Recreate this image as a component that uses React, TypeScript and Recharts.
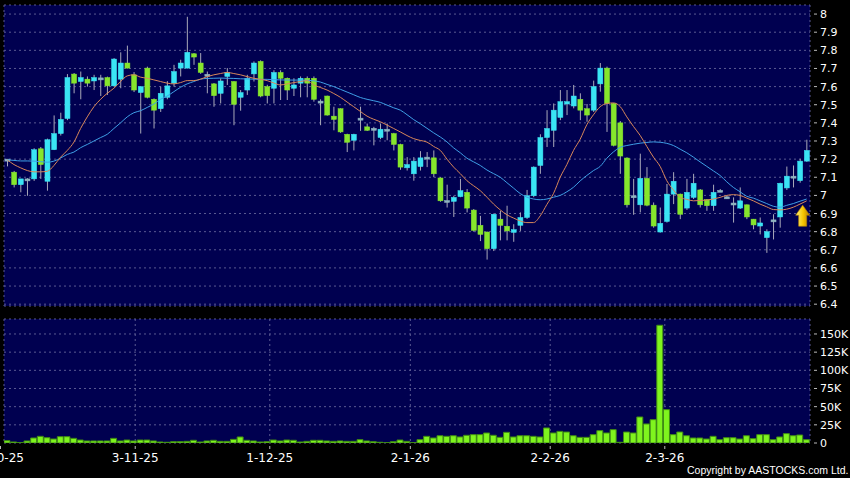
import { ComposedChart, BarChart, Bar, Line, XAxis, YAxis, CartesianGrid, ReferenceDot } from "recharts";

// daily candles (121 sessions)
const OPEN = [
  7.195, 7.128, 7.059, 7.091, 7.091, 7.257, 7.078, 7.252, 7.341, 7.424,
  7.669, 7.628, 7.641, 7.631, 7.646, 7.65, 7.604, 7.641, 7.73, 7.665,
  7.567, 7.702, 7.53, 7.478, 7.541, 7.619, 7.702, 7.702, 7.781, 7.73,
  7.665, 7.615, 7.563, 7.656, 7.628, 7.541, 7.581, 7.67, 7.739, 7.6,
  7.591, 7.678, 7.646, 7.591, 7.619, 7.646, 7.646, 7.517, 7.548, 7.437,
  7.478, 7.337, 7.304, 7.424, 7.378, 7.37, 7.319, 7.363, 7.341, 7.281,
  7.152, 7.119, 7.159, 7.209, 7.207, 7.096, 6.97, 6.967, 6.993, 7.017,
  6.919, 6.835, 6.798, 6.706, 6.869, 6.83, 6.796, 6.835, 6.878, 6.998,
  7.165, 7.319, 7.359, 7.43, 7.504, 7.493, 7.53, 7.478, 7.47, 7.615,
  7.702, 7.507, 7.4, 7.206, 6.996, 6.948, 7.094, 6.946, 6.798, 6.856,
  7.007, 7.007, 6.93, 6.989, 7.03, 6.976, 6.943, 7.026, 6.99, 6.956,
  6.93, 6.948, 6.869, 6.831, 6.767, 6.863, 6.881, 7.041, 7.104, 7.081,
  7.189,
];
const HIGH = [
  7.2, 7.135, 7.091, 7.095, 7.26, 7.267, 7.313, 7.441, 7.456, 7.669,
  7.675, 7.683, 7.656, 7.665, 7.665, 7.655, 7.757, 7.789, 7.826, 7.68,
  7.6, 7.71, 7.535, 7.6, 7.63, 7.72, 7.748, 7.985, 7.785, 7.785,
  7.683, 7.62, 7.646, 7.702, 7.63, 7.581, 7.665, 7.739, 7.745, 7.61,
  7.69, 7.69, 7.65, 7.646, 7.656, 7.656, 7.656, 7.53, 7.55, 7.489,
  7.48, 7.34, 7.34, 7.489, 7.396, 7.378, 7.396, 7.396, 7.345, 7.285,
  7.211, 7.211, 7.244, 7.239, 7.248, 7.1, 7.059, 6.998, 7.091, 7.035,
  6.925, 6.887, 6.8, 6.9, 6.915, 6.943, 6.841, 6.906, 7.03, 7.16,
  7.337, 7.47, 7.507, 7.581, 7.581, 7.609, 7.563, 7.504, 7.633, 7.73,
  7.71, 7.51, 7.41, 7.21, 7.091, 7.23, 7.156, 6.961, 6.933, 7.063,
  7.128, 7.01, 7.091, 7.119, 7.035, 6.98, 7.059, 7.035, 7.0, 6.989,
  7.044, 6.95, 6.87, 6.878, 6.813, 6.896, 7.07, 7.159, 7.165, 7.202,
  7.307,
];
const LOW = [
  7.16, 7.044, 7.017, 6.998, 7.08, 7.091, 7.026, 7.25, 7.33, 7.415,
  7.563, 7.53, 7.6, 7.581, 7.548, 7.554, 7.6, 7.591, 7.7, 7.57,
  7.341, 7.535, 7.369, 7.46, 7.53, 7.6, 7.656, 7.7, 7.72, 7.67,
  7.563, 7.489, 7.507, 7.609, 7.387, 7.467, 7.554, 7.628, 7.541, 7.507,
  7.507, 7.526, 7.526, 7.548, 7.541, 7.541, 7.517, 7.387, 7.44, 7.359,
  7.345, 7.239, 7.248, 7.356, 7.355, 7.276, 7.31, 7.304, 7.248, 7.141,
  7.137, 7.081, 7.137, 7.156, 7.1, 6.965, 6.933, 6.881, 6.99, 6.906,
  6.8, 6.748, 6.646, 6.693, 6.752, 6.752, 6.744, 6.804, 6.87, 6.99,
  7.119, 7.267, 7.267, 7.415, 7.443, 7.48, 7.415, 7.406, 7.46, 7.572,
  7.35, 7.27, 7.119, 6.933, 6.893, 6.906, 6.94, 6.822, 6.795, 6.85,
  6.952, 6.869, 6.92, 6.98, 6.933, 6.915, 6.915, 7.02, 6.98, 6.85,
  6.925, 6.869, 6.813, 6.785, 6.683, 6.757, 6.822, 7.03, 7.044, 7.07,
  7.185,
];
const CLOSE = [
  7.2, 7.059, 7.091, 7.087, 7.252, 7.17, 7.307, 7.341, 7.419, 7.65,
  7.619, 7.65, 7.619, 7.65, 7.648, 7.604, 7.752, 7.73, 7.702, 7.581,
  7.6, 7.541, 7.47, 7.563, 7.604, 7.683, 7.73, 7.789, 7.763, 7.678,
  7.668, 7.55, 7.631, 7.678, 7.502, 7.567, 7.646, 7.73, 7.548, 7.55,
  7.678, 7.646, 7.581, 7.609, 7.646, 7.619, 7.53, 7.52, 7.443, 7.419,
  7.35, 7.293, 7.337, 7.426, 7.359, 7.37, 7.365, 7.365, 7.281, 7.156,
  7.17, 7.189, 7.207, 7.211, 7.119, 6.97, 6.972, 6.989, 7.026, 6.93,
  6.807, 6.785, 6.706, 6.896, 6.835, 6.804, 6.811, 6.878, 6.998, 7.156,
  7.319, 7.369, 7.47, 7.517, 7.517, 7.548, 7.47, 7.443, 7.6, 7.702,
  7.507, 7.276, 7.217, 6.948, 6.998, 7.094, 6.946, 6.831, 6.846, 7.007,
  7.078, 6.896, 7.017, 7.067, 6.948, 6.943, 7.017, 7.028, 6.992, 6.958,
  6.97, 6.881, 6.837, 6.848, 6.8, 6.865, 7.067, 7.106, 7.106, 7.189,
  7.248,
];
// shares traded, thousands
const VOLUME_K = [
  3.2, 1.4, 0.5, 2.8, 6.9, 9.2, 7.3, 5.5, 8.7, 8.7,
  6.4, 4.1, 2.8, 2.8, 2.8, 2.8, 6.4, 2.8, 4.1, 2.8,
  4.1, 4.1, 2.8, 1.4, 1.0, 1.8, 1.8, 2.3, 3.7, 1.4,
  2.8, 3.7, 2.3, 2.3, 5.0, 8.3, 3.7, 2.8, 1.4, 1.8,
  4.1, 2.8, 4.1, 3.7, 1.4, 2.3, 3.7, 3.7, 2.8, 2.3,
  2.8, 2.3, 2.3, 4.6, 2.8, 1.8, 1.0, 0.5, 1.8, 4.1,
  2.3, 0.5, 4.6, 9.2, 6.9, 10, 9.2, 10, 8.3, 10.6,
  11.5, 11.5, 13.8, 10.6, 7.8, 14.7, 8.3, 10, 10, 9.2,
  8.3, 20.7, 13.8, 16, 15.1, 10, 7.8, 7.8, 11.5, 17,
  13.8, 18.4, 1, 15.1, 13.8, 35.8, 26.2, 32.1, 162, 45.9,
  11.5, 15.1, 10, 6.9, 6.9, 5.5, 9.2, 4.6, 7.3, 7.3,
  5.5, 10, 6, 11.5, 11.5, 4.6, 8.3, 12.9, 10, 11,
  4.6,
];
// moving averages as drawn (orange = short, blue = long)
const MA_SHORT = [
  7.196, 7.17, 7.152, 7.137, 7.13, 7.13, 7.133, 7.165, 7.211, 7.248,
  7.294, 7.369, 7.433, 7.489, 7.53, 7.563, 7.591, 7.628, 7.659, 7.665,
  7.652, 7.646, 7.637, 7.628, 7.619, 7.615, 7.622, 7.633, 7.633, 7.641,
  7.655, 7.665, 7.672, 7.678, 7.672, 7.665, 7.655, 7.646, 7.64, 7.633,
  7.62, 7.609, 7.615, 7.622, 7.628, 7.633, 7.609, 7.595, 7.581, 7.562,
  7.541, 7.515, 7.489, 7.463, 7.437, 7.42, 7.406, 7.388, 7.369, 7.35,
  7.33, 7.313, 7.303, 7.294, 7.27, 7.248, 7.2, 7.156, 7.12, 7.081,
  7.053, 7.026, 6.99, 6.952, 6.92, 6.893, 6.875, 6.859, 6.85, 6.85,
  6.887, 6.95, 7.011, 7.1, 7.17, 7.248, 7.31, 7.39, 7.445, 7.489,
  7.507, 7.51, 7.49, 7.433, 7.38, 7.331, 7.27, 7.211, 7.16, 7.081,
  7.03, 6.989, 6.978, 6.97, 6.972, 6.974, 6.98, 6.989, 7.0, 7.004,
  7.0, 6.985, 6.97, 6.952, 6.937, 6.922, 6.92, 6.924, 6.935, 6.952,
  6.97,
];
const MA_LONG = [
  7.196, 7.193, 7.19, 7.19, 7.189, 7.186, 7.183, 7.189, 7.206, 7.226,
  7.239, 7.263, 7.281, 7.3, 7.319, 7.337, 7.369, 7.4, 7.433, 7.456,
  7.467, 7.485, 7.504, 7.53, 7.548, 7.572, 7.596, 7.615, 7.628, 7.641,
  7.645, 7.646, 7.647, 7.646, 7.645, 7.643, 7.642, 7.641, 7.64, 7.64,
  7.638, 7.637, 7.636, 7.636, 7.636, 7.635, 7.632, 7.625, 7.612, 7.6,
  7.585, 7.57, 7.555, 7.54, 7.53, 7.522, 7.513, 7.498, 7.483, 7.47,
  7.445, 7.418, 7.395, 7.37, 7.345, 7.322, 7.295, 7.262, 7.235, 7.205,
  7.185, 7.165, 7.14, 7.12, 7.1, 7.07, 7.04, 7.01, 6.99, 6.98,
  6.976, 6.98, 6.99, 7.0, 7.02, 7.045, 7.08, 7.11, 7.137, 7.16,
  7.205, 7.24, 7.265, 7.275, 7.282, 7.288, 7.292, 7.295, 7.293, 7.287,
  7.275, 7.255, 7.235, 7.211, 7.185, 7.16, 7.135, 7.11, 7.075, 7.044,
  7.02, 6.995, 6.985, 6.97, 6.955, 6.94, 6.935, 6.945, 6.955, 6.968,
  6.98,
];

const DATE_TICKS = [-0.5, 19.2, 39.4, 60.5, 81.5, 98.7];
const DATE_LABELS = ["2-10-25", "3-11-25", "1-12-25", "2-1-26", "2-2-26", "2-3-26"];
const PRICE_TICKS = [6.4, 6.5, 6.6, 6.7, 6.8, 6.9, 7, 7.1, 7.2, 7.3, 7.4, 7.5, 7.6, 7.7, 7.8, 7.9, 8];
const VOLUME_TICKS = [0, 25000, 50000, 75000, 100000, 125000, 150000];
const SIGNAL = { i: 119.4, price: 6.946 };

const rows = CLOSE.map((c, i) => ({
  i,
  o: OPEN[i],
  h: HIGH[i],
  l: LOW[i],
  c,
  v: VOLUME_K[i] * 1000,
  ms: MA_SHORT[i],
  ml: MA_LONG[i],
}));

const PLOT_BG = "#000050";
const GRID = "#5a5a92";
const UP = "#3ae4f4";
const DOWN = "#86e62c";
const FLAT = "#8fb4c0";
const WICK = "#a9a9b9";
const FONT = "DejaVu Sans";

function Candle(props: any) {
  const { x, y, width, height, payload } = props;
  if (x == null || y == null) return null;
  const { o, h, l, c } = payload;
  const span = h - l;
  const py = (p: number) => (span > 0 ? y + ((h - p) / span) * height : y);
  const mid = x + width / 2;
  const top = py(Math.max(o, c));
  const bottom = py(Math.min(o, c));
  const flat = Math.abs(c - o) < 0.005;
  const fill = flat ? FLAT : c > o ? UP : DOWN;
  return (
    <g>
      <line x1={mid} x2={mid} y1={y} y2={y + height} stroke={WICK} strokeWidth={1} />
      <rect x={x} y={top} width={width} height={Math.max(bottom - top, 2)} fill={fill} stroke={fill} strokeWidth={0.5} />
    </g>
  );
}

function Arrow({ cx, cy }: any) {
  if (cx == null) return null;
  const pts = [
    [cx, cy],
    [cx + 7, cy + 10],
    [cx + 4, cy + 10],
    [cx + 4, cy + 21],
    [cx - 4, cy + 21],
    [cx - 4, cy + 10],
    [cx - 7, cy + 10],
  ]
    .map((p) => p.join(","))
    .join(" ");
  return (
    <g>
      <defs>
        <linearGradient id="arrowGold" x1="0" y1="0" x2="1" y2="0">
          <stop offset="0%" stopColor="#fff27a" />
          <stop offset="55%" stopColor="#f5c400" />
          <stop offset="100%" stopColor="#b57a00" />
        </linearGradient>
      </defs>
      <polygon points={pts} fill="url(#arrowGold)" stroke="#c08a00" strokeWidth={0.6} />
    </g>
  );
}

function PriceTick({ x, y, payload }: any) {
  return (
    <g>
      <line x1={x + 4} x2={x + 7} y1={y} y2={y} stroke="#bbbbbb" />
      <text x={x + 10} y={y + 4} fill="#ffffff" fontSize={11} fontFamily={FONT}>
        {Number(payload.value.toFixed(1)).toString()}
      </text>
    </g>
  );
}

function VolumeTick({ x, y, payload }: any) {
  const v = payload.value;
  return (
    <g>
      <line x1={x + 4} x2={x + 7} y1={y} y2={y} stroke="#bbbbbb" />
      <text x={x + 10} y={y + 4} fill="#ffffff" fontSize={11} fontFamily={FONT}>
        {v === 0 ? "0" : `${v / 1000}K`}
      </text>
    </g>
  );
}

function DateTick({ x, y, payload, index }: any) {
  const label = DATE_LABELS[DATE_TICKS.indexOf(payload.value)];
  const tx = index === 0 ? x - 3.5 : x;
  return (
    <g>
      <line x1={tx} x2={tx} y1={y + 3} y2={y + 6} stroke="#bbbbbb" />
      <text x={tx} y={y + 19} textAnchor="middle" fill="#ffffff" fontSize={12} fontFamily={FONT}>
        {label}
      </text>
    </g>
  );
}

export default function App() {
  return (
    <div style={{ position: "absolute", left: 0, top: 0, width: 850, height: 478, background: "#000", overflow: "hidden" }}>
      <div style={{ position: "absolute", left: 0, top: 0 }}>
        <ComposedChart width={850} height={312} data={rows} margin={{ top: 5, right: 0, bottom: 6, left: 4 }}>
          <CartesianGrid fill={PLOT_BG} fillOpacity={1} stroke={GRID} strokeDasharray="2 3" />
          <XAxis
            type="number"
            dataKey="i"
            domain={[-0.5, 120.5]}
            ticks={DATE_TICKS}
            allowDataOverflow
            tick={false}
            tickLine={false}
            axisLine={false}
            height={0}
          />
          <YAxis
            orientation="right"
            width={40}
            domain={[6.39, 8.05]}
            ticks={PRICE_TICKS}
            allowDataOverflow
            interval={0}
            axisLine={false}
            tickLine={false}
            tickSize={0}
            tickMargin={0}
            tick={<PriceTick />}
          />
          <Bar dataKey={(d: any) => [d.l, d.h]} barSize={5} shape={(p: any) => <Candle {...p} />} isAnimationActive={false} />
          <Line type="monotone" dataKey="ml" stroke="#3f9fe6" strokeWidth={1} dot={false} isAnimationActive={false} />
          <Line type="monotone" dataKey="ms" stroke="#d8875a" strokeWidth={1} dot={false} isAnimationActive={false} />
          <ReferenceDot x={SIGNAL.i} y={SIGNAL.price} shape={(p: any) => <Arrow {...p} />} />
        </ComposedChart>
      </div>
      <div style={{ position: "absolute", left: 0, top: 312 }}>
        <BarChart width={850} height={166} data={rows} margin={{ top: 7, right: 0, bottom: 0, left: 4 }}>
          <CartesianGrid fill={PLOT_BG} fillOpacity={1} stroke={GRID} strokeDasharray="2 3" />
          <XAxis
            type="number"
            dataKey="i"
            domain={[-0.5, 120.5]}
            ticks={DATE_TICKS}
            allowDataOverflow
            interval={0}
            axisLine={false}
            tickLine={false}
            tickSize={0}
            tickMargin={0}
            height={35}
            tick={<DateTick />}
          />
          <YAxis
            orientation="right"
            width={40}
            domain={[0, 170600]}
            ticks={VOLUME_TICKS}
            allowDataOverflow
            interval={0}
            axisLine={false}
            tickLine={false}
            tickSize={0}
            tickMargin={0}
            tick={<VolumeTick />}
          />
          <Bar dataKey="v" barSize={6} fill="#7ff41e" stroke="#3f8a14" strokeWidth={1} isAnimationActive={false} />
        </BarChart>
      </div>
      <div
        style={{
          position: "absolute",
          left: 687,
          top: 464,
          color: "#ffffff",
          fontFamily: "Liberation Sans",
          fontSize: 10.5,
          lineHeight: "12px",
          whiteSpace: "nowrap",
        }}
      >
        Copyright by AASTOCKS.com Ltd.
      </div>
    </div>
  );
}
